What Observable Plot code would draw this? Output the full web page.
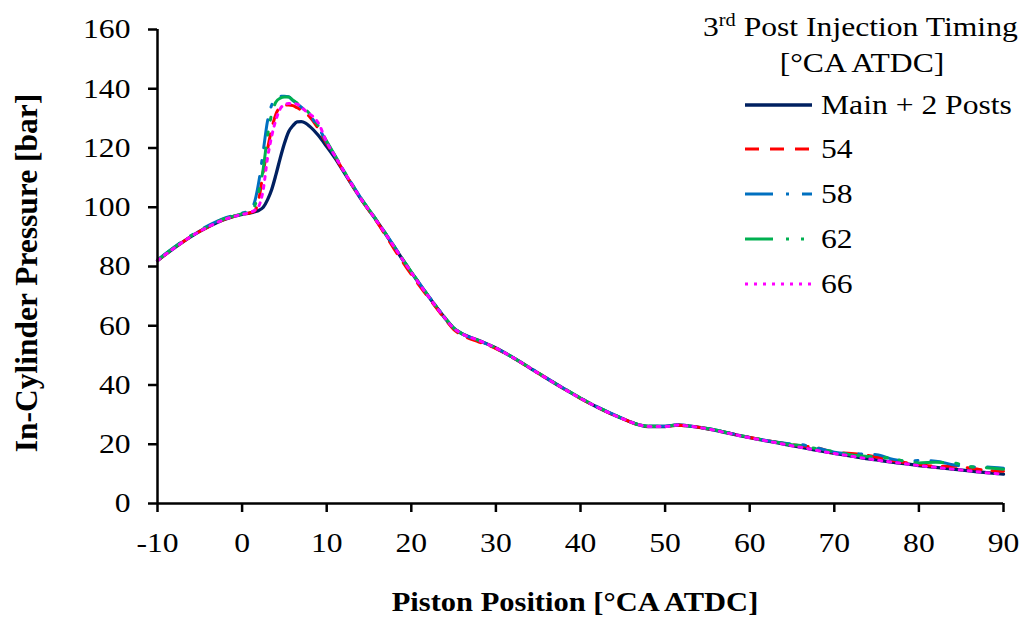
<!DOCTYPE html>
<html><head><meta charset="utf-8">
<script src="https://cdn.jsdelivr.net/npm/d3@7"></script>
<script src="https://cdn.jsdelivr.net/npm/@observablehq/plot@0.6"></script>
<style>
body{margin:0;background:#fff;}
#wrap{position:relative;width:1029px;height:619px;font-family:"Liberation Serif","Times New Roman",serif;}
#wrap svg.overlay{position:absolute;left:0;top:0;pointer-events:none;}
</style></head><body><div id="wrap"></div>
<script>
// Crank angle positions [°CA ATDC]
const xPos = [-10,-8,-6,-4,-2, 0,1,1.5,2,2.5, 3,3.5,4,4.5,5, 5.5,6,6.5,7,7.5, 8,9,10,11,12, 14,16,18,20,22, 24,25,26,28,30, 32,35,38,40,42, 45,47,48,50,51.5, 53,55,58,60,63, 65,66,68,70,72, 74,75,77,79,80, 82,84,86,88,90];

// In-cylinder pressure [bar]
const mainPosts = [82,86.3,90.2,93.4,96, 97.6,98.1,98.5,99,100, 102.5,106,111,116.5,121.5, 125.5,127.5,128.8,128.9,128.4, 127.3,124.3,120.5,116.5,112, 103,95,86.5,78,70, 62.5,59.2,57.3,55,52.5, 49.3,44,38.8,35.5,32.5, 28.6,26.5,26,26,26.5, 26.1,25.2,23.4,22.2,20.6, 19.5,19,17.9,16.9,16, 15.1,14.7,13.9,13.2,12.8, 12.2,11.6,11,10.4,9.9];
const post54 = [82,86.3,90.2,93.4,96, 97.6,98.2,98.8,103,112, 119.5,126.5,131.5,133.8,134.5, 134.5,134.3,133.6,132.8,131.8, 130.5,126.5,121.5,117,112.2, 103,94.8,85.8,77.3,69.6, 62.2,58.8,56.8,54.5,52.3, 49.2,44,38.8,35.5,32.5, 28.6,26.4,26,26,26.4, 26.1,25.2,23.5,22.3,20.8, 19.9,19.5,18.8,17.2,16.9, 16.2,15.7,14.4,13.6,13.2, 12.6,12.6,12,11.2,10.9];
const post58 = [82.2,86.6,90.5,93.8,96.4, 98,99,102,109,119, 129,134.5,136.8,137.4,137.5, 137.3,136,135,133.8,132.5, 131,127,122,117.2,112.4, 103.3,95.2,86.7,78.2,70.2, 62.7,59.3,57.3,55,52.5, 49.3,44.1,38.9,35.6,32.6, 28.7,26.5,26.1,26.1,26.5, 26.1,25.3,23.5,22.3,20.8, 20.1,19.9,18.7,17.3,16.8, 16.7,16.5,14.9,14.3,14.5, 14.3,13.1,12.4,12.3,11.9];
const post62 = [82.1,86.5,90.4,93.6,96.2, 97.8,98.8,100.5,105.5,113, 124,131.5,135.5,136.8,137.2, 137.2,136.2,135.2,134,133, 131.5,127.5,122.3,117.4,112.5, 103.3,95.2,86.7,78.2,70.2, 62.7,59.3,57.3,55,52.5, 49.3,44.1,38.9,35.6,32.6, 28.7,26.5,26.1,26.1,26.5, 26.1,25.3,23.5,22.3,20.8, 19.8,19.6,18.4,17.5,16.4, 15.9,15.8,15.1,13.9,13.7, 13.9,13.7,12.4,12.1,11.6];
const post66 = [82,86.3,90.2,93.4,96, 97.6,98.3,99,100.5,106, 116.5,124,129.5,133.2,134.6, 135,135,134.8,133.8,132.5, 131.5,128.5,122,117.2,112.3, 103.1,95,86.5,78,70, 62.5,59.2,57.3,55,52.5, 49.3,44,38.8,35.5,32.5, 28.6,26.5,26,26,26.5, 26.1,25.2,23.4,22.2,20.6, 19.5,19,17.9,16.9,16, 15.1,14.7,13.9,13.2,12.8, 12.2,11.6,11,10.4,9.9];

const seriesNames = ["Main + 2 Posts", "54", "58", "62", "66"];
const seriesValues = [mainPosts, post54, post58, post62, post66];
const xTicks = [-10,0,10,20,30,40,50,60,70,80,90];
const yTicks = [0,20,40,60,80,100,120,140,160];
const legendTitle = "Post Injection Timing";
const legendUnit = "[°CA ATDC]";
const xLabel = "Piston Position [°CA ATDC]";
const yLabel = "In-Cylinder Pressure [bar]";

const styles = [
  {stroke:"#002060", width:3.3, dash:null},
  {stroke:"#FF0000", width:3, dash:"14,11"},
  {stroke:"#0070C0", width:3, dash:"28,13,3,13"},
  {stroke:"#00B050", width:3, dash:"28,13,3,12,3,13"},
  {stroke:"#FF00FF", width:3, dash:"3,6"}
];

const rows = [];
seriesNames.forEach((s, i) => seriesValues[i].forEach((v, j) => rows.push({series:s, x:xPos[j], p:v})));

const SX = 1.13; // horizontal text stretch of the reference
const font = "Liberation Serif, Times New Roman, serif";

const lines = seriesNames.map((s, i) => Plot.line(rows.filter(d => d.series === s), {
  x:"x", y:"p", stroke: styles[i].stroke, strokeWidth: styles[i].width,
  strokeDasharray: styles[i].dash || undefined, curve:"monotone-x"
}));

const chart = Plot.plot({
  width:1029, height:619,
  marginLeft:157, marginRight:26, marginTop:29, marginBottom:116,
  x:{domain:[-10,90]}, y:{domain:[0,160]},
  style:{fontFamily:font, fontSize:"28px", color:"#000", background:"#fff"},
  marks:[
    Plot.axisX({ticks:xTicks, tickSize:9, tickPadding:20, strokeWidth:2.5, label:null, tickFormat:d => String(d), fontSize:28}),
    Plot.axisY({ticks:yTicks, tickSize:9, tickPadding:18, strokeWidth:2.5, label:null, tickFormat:d => String(d), fontSize:28}),
    ...lines,
    Plot.ruleY([0], {strokeWidth:2.5, stroke:"#000"}),
    Plot.ruleX([-10], {strokeWidth:2.5, stroke:"#000"})
  ]
});
const wrap = document.getElementById("wrap");
wrap.appendChild(chart);

// stretch tick labels horizontally about their anchor (anchor is the translate in transform)
chart.querySelectorAll('g[aria-label$="tick label"] text').forEach(t => {
  const tr = t.getAttribute("transform") || "";
  t.setAttribute("transform", `${tr} scale(${SX},1)`);
});

// overlay: legend and axis titles
const ov = d3.select(wrap).append("svg").attr("class","overlay")
  .attr("width",1029).attr("height",619)
  .style("font-family", font).style("fill","#000");

function txt(x, y, s, size, anchor, weight, sx) {
  const k = sx || SX;
  return ov.append("text").attr("x",x).attr("y",y)
    .attr("transform", `translate(${x},${y}) scale(${k},1) translate(${-x},${-y})`)
    .attr("font-size",size).attr("text-anchor",anchor||"start")
    .attr("font-weight",weight||"normal").text(s);
}

// legend title with superscript
const t1 = ov.append("text").attr("x",703).attr("y",36)
  .attr("transform", `translate(703,36) scale(${SX},1) translate(-703,-36)`)
  .attr("font-size",28);
t1.append("tspan").text("3");
t1.append("tspan").attr("font-size",18).attr("dy",-10).text("rd");
t1.append("tspan").attr("dy",10).text(" " + legendTitle);
txt(862, 72, legendUnit, 28, "middle");

const rowsY = [105, 149, 194, 239, 284];
seriesNames.forEach((s, i) => {
  ov.append("line").attr("x1",745).attr("x2",812).attr("y1",rowsY[i]).attr("y2",rowsY[i])
    .attr("stroke",styles[i].stroke).attr("stroke-width",styles[i].width)
    .attr("stroke-dasharray",styles[i].dash);
  txt(821, rowsY[i] + 9.5, s, 28, "start");
});

// axis titles
txt(575, 611, xLabel, 28, "middle", "bold", 1.09);
ov.append("text").attr("transform",`translate(37,273) scale(1.02,1) rotate(-90)`)
  .attr("text-anchor","middle").attr("font-size",31.5).attr("font-weight","bold").text(yLabel);
</script></body></html>
